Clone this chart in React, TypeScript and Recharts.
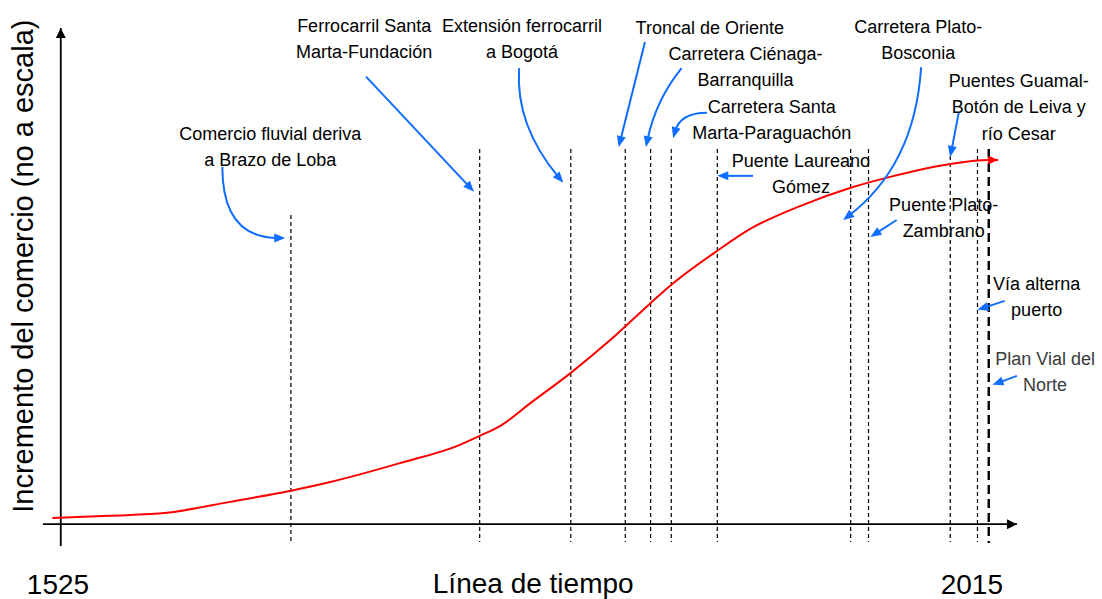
import { LineChart, Line, XAxis, YAxis, ReferenceLine, ReferenceDot } from 'recharts';

// red trend curve (timeline position, relative trade level) - not to scale
const curveX = [-0.9, 5.2, 11.3, 18.0, 24.5, 28.7, 36.1, 42.5, 44.6, 46.8, 50.0, 54.3, 58.5, 62.7, 65.1, 69.9, 73.4, 78.7, 84.1, 88.3, 94.7, 98.8, 99.8];
const curveY = [1.25, 1.7, 2.3, 4.5, 6.75, 8.5, 12.3, 16.0, 17.8, 19.8, 24.4, 30.5, 37.1, 44.4, 48.4, 55.1, 59.5, 64.1, 67.8, 70.0, 72.6, 73.4, 73.4];

// timeline events (vertical markers)
const eventX = [24.5, 44.6, 54.3, 60.1, 62.8, 65.0, 69.9, 84.1, 86.0, 94.7, 97.6, 98.8];
const eventLabels = [
  ['Comercio fluvial deriva', 'a Brazo de Loba'],
  ['Ferrocarril Santa', 'Marta-Fundación'],
  ['Extensión ferrocarril', 'a Bogotá'],
  ['Troncal de Oriente'],
  ['Carretera Ciénaga-', 'Barranquilla'],
  ['Carretera Santa', 'Marta-Paraguachón'],
  ['Puente Laureano', 'Gómez'],
  ['Carretera Plato-', 'Bosconia'],
  ['Puente Plato-', 'Zambrano'],
  ['Puentes Guamal-', 'Botón de Leiva y', 'río Cesar'],
  ['Vía alterna', 'puerto'],
  ['Plan Vial del', 'Norte'],
];
const startYear = '1525';
const endYear = '2015';
const xTitle = 'Línea de tiempo';
const yTitle = 'Incremento del comercio (no a escala)';

const data = curveX.map((x, i) => ({ x, y: curveY[i] }));

// layout of the annotations: label anchor, arrow start/end, curve control (fraction of the box)
const notes = [
  { at: [22.3, 77.4], from: [17.2, 72.0], to: [23.9, 57.7], ctrl: [0, 1] },
  { at: [32.3, 99.2], from: [32.5, 90.2], to: [44.0, 67.0], ctrl: [0.5, 0.5] },
  { at: [49.1, 99.2], from: [48.8, 91.9], to: [53.5, 68.8], ctrl: [-0.09, 0.5] },
  { at: [69.1, 98.8], from: [62.2, 97.2], to: [59.4, 76.0], ctrl: [0.5, 0.5] },
  { at: [72.9, 93.6], from: [66.1, 91.9], to: [62.3, 76.0], ctrl: [0.72, 0.4] },
  { at: [75.7, 82.9], from: [68.8, 82.9], to: [65.2, 77.8], ctrl: [0.79, 0] },
  { at: [78.8, 72.0], from: [73.7, 70.2], to: [69.9, 70.2], ctrl: [0.5, 0.5] },
  { at: [91.3, 99.0], from: [91.6, 92.1], to: [83.3, 61.3], ctrl: [0.08, 0.64] },
  { at: [94.0, 63.1], from: [89.0, 61.3], to: [86.2, 57.9], ctrl: [0.5, 0.5] },
  { at: [102.0, 88.1], from: [95.6, 82.9], to: [94.7, 74.0], ctrl: [0.5, 0.5] },
  { at: [103.9, 47.2], from: [100.5, 45.0], to: [97.6, 43.2], ctrl: [0.5, 0.5] },
  { at: [104.8, 32.1], from: [101.8, 29.9], to: [99.2, 28.1], ctrl: [0.5, 0.5] },
];
const eventTop = [62.3, 75.6, 75.6, 75.6, 75.6, 75.6, 75.6, 75.6, 75.6, 75.6, 75.6, 75.6];

const FONT = '"Liberation Sans", Arial, sans-serif';
const BLUE = '#0f6dff';
const RED = '#ff0000';

function head(x1: number, y1: number, x2: number, y2: number, len: number, half: number, color: string) {
  const d = Math.hypot(x2 - x1, y2 - y1) || 1;
  const ux = (x2 - x1) / d;
  const uy = (y2 - y1) / d;
  const bx = x2 - ux * len;
  const by = y2 - uy * len;
  return (
    <polygon
      points={`${x2},${y2} ${bx - uy * half},${by + ux * half} ${bx + uy * half},${by - ux * half}`}
      fill={color}
    />
  );
}

const axisShape = (p: any) => (
  <g>
    <line x1={p.x1} y1={p.y1} x2={p.x2} y2={p.y2} stroke="#000" strokeWidth={1.8} />
    {head(p.x1, p.y1, p.x2, p.y2, 10, 5, '#000')}
  </g>
);

const blueArrow = (ctrl: number[]) => (p: any) => {
  const cx = p.x1 + ctrl[0] * (p.x2 - p.x1);
  const cy = p.y1 + ctrl[1] * (p.y2 - p.y1);
  const d = Math.hypot(p.x2 - cx, p.y2 - cy) || 1;
  const ex = p.x2 - ((p.x2 - cx) / d) * 7;
  const ey = p.y2 - ((p.y2 - cy) / d) * 7;
  return (
    <g>
      <path d={`M${p.x1},${p.y1} Q${cx},${cy} ${ex},${ey}`} fill="none" stroke={BLUE} strokeWidth={2} />
      {head(cx, cy, p.x2, p.y2, 11, 4.5, BLUE)}
    </g>
  );
};

const textShape = (lines: string[], size: number, color = '#000', gap = 26.3) => (p: any) => (
  <text x={p.cx} y={p.cy} textAnchor="middle" fontFamily={FONT} fontSize={size} fill={color}>
    {lines.map((l, i) => (
      <tspan key={i} x={p.cx} dy={i === 0 ? 0 : gap}>
        {l}
      </tspan>
    ))}
  </text>
);

const yTitleShape = (p: any) => (
  <text
    x={p.cx}
    y={p.cy}
    transform={`rotate(-90 ${p.cx} ${p.cy})`}
    textAnchor="middle"
    fontFamily={FONT}
    fontSize={29}
    fill="#000"
  >
    {yTitle}
  </text>
);

const curveDot = (p: any) => {
  if (p.index !== data.length - 1) return <g key={p.index} />;
  return <g key={p.index}>{head(p.cx - 10, p.cy, p.cx, p.cy, 10, 4.5, RED)}</g>;
};

export default function App() {
  return (
    <div style={{ position: 'absolute', left: 0, top: 0, width: 1102, height: 599, background: '#fff' }}>
      <LineChart width={1102} height={599} data={data} margin={{ top: 28, right: 83.2, bottom: 50, left: 42 }}>
        <XAxis type="number" dataKey="x" domain={[-2, 102]} hide allowDataOverflow />
        <YAxis type="number" domain={[-5, 100]} hide allowDataOverflow />

        {eventX.map((x, i) => {
          const last = i === eventX.length - 1;
          return (
            <ReferenceLine
              key={`ev-${i}`}
              segment={[{ x, y: eventTop[i] }, { x, y: last ? -3.8 : -3.6 }]}
              stroke="#000"
              strokeWidth={last ? 2.4 : 1.2}
              strokeDasharray={last ? '9 5' : '4 3'}
              ifOverflow="visible"
            />
          );
        })}

        <ReferenceLine segment={[{ x: -1.9, y: 0 }, { x: 101.8, y: 0 }]} shape={axisShape} ifOverflow="visible" />
        <ReferenceLine segment={[{ x: 0, y: -4.4 }, { x: 0, y: 100 }]} shape={axisShape} ifOverflow="visible" />

        <Line
          type="monotone"
          dataKey="y"
          stroke={RED}
          strokeWidth={2}
          dot={curveDot}
          activeDot={false}
          isAnimationActive={false}
        />

        {notes.map((n, i) => (
          <ReferenceLine
            key={`ar-${i}`}
            segment={[{ x: n.from[0], y: n.from[1] }, { x: n.to[0], y: n.to[1] }]}
            shape={blueArrow(n.ctrl)}
            ifOverflow="visible"
          />
        ))}

        {notes.map((n, i) => (
          <ReferenceDot
            key={`lb-${i}`}
            x={n.at[0]}
            y={n.at[1]}
            r={0}
            shape={textShape(eventLabels[i], 18, i === notes.length - 1 ? '#3a3a3a' : '#000')}
            ifOverflow="visible"
          />
        ))}

        <ReferenceDot x={-0.3} y={-14} r={0} shape={textShape([startYear], 28)} ifOverflow="visible" />
        <ReferenceDot x={97.0} y={-14} r={0} shape={textShape([endYear], 28)} ifOverflow="visible" />
        <ReferenceDot x={50.3} y={-13.8} r={0} shape={textShape([xTitle], 28)} ifOverflow="visible" />
        <ReferenceDot x={-2.96} y={52} r={0} shape={yTitleShape} ifOverflow="visible" />
      </LineChart>
    </div>
  );
}
